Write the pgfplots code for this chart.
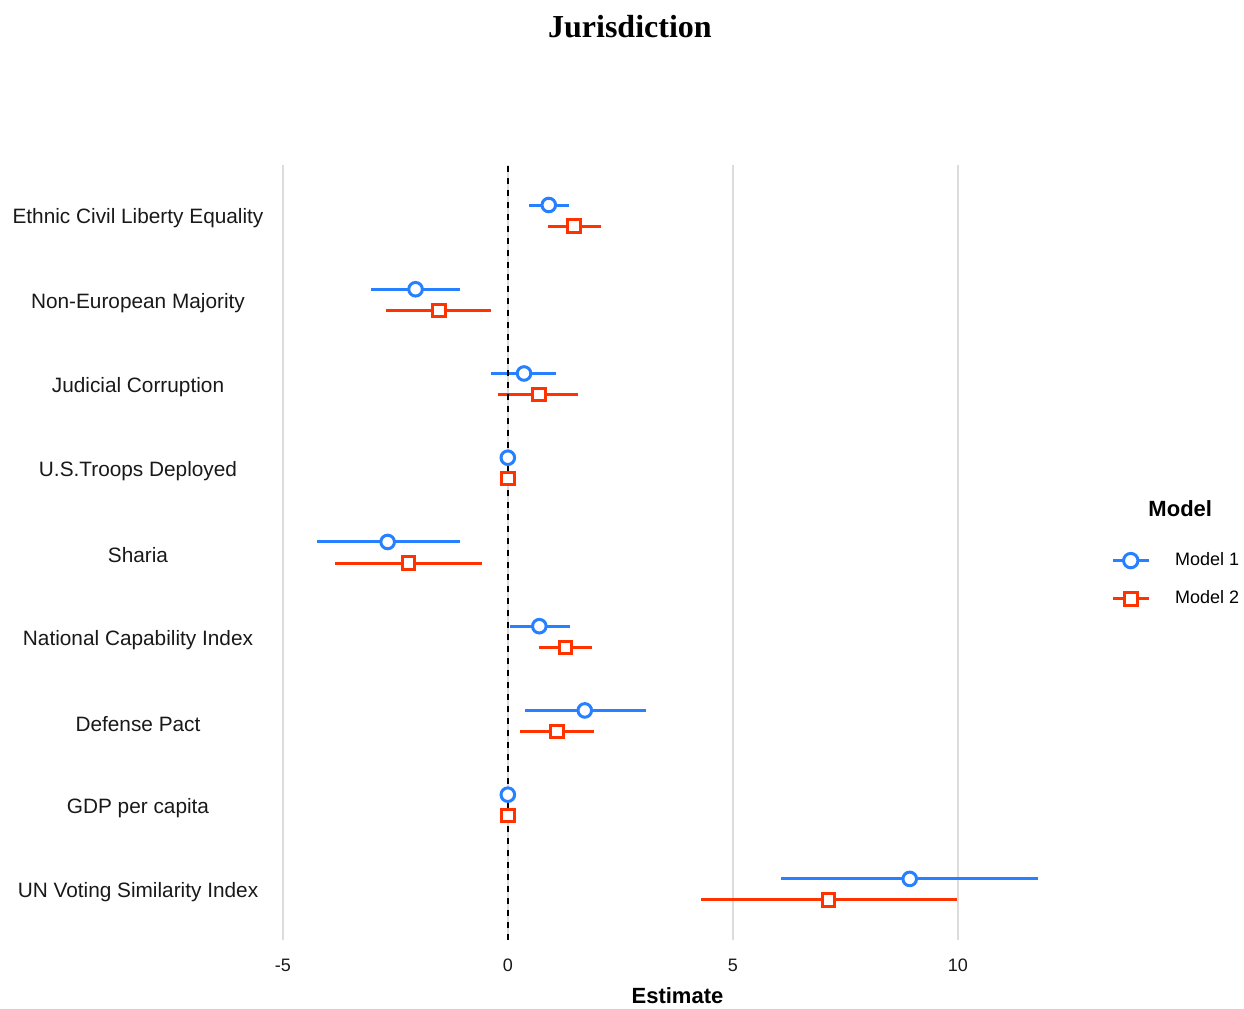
\documentclass[border=0pt]{standalone}
\usepackage{pgfplots}
\pgfplotsset{compat=1.18}
\usepackage{pgfplotstable}
\usepackage{fontspec}
\setmainfont{Liberation Sans}
\newfontfamily\serif{Liberation Serif}
\definecolor{mblue}{RGB}{38,128,255}
\definecolor{mred}{RGB}{255,51,0}
\definecolor{gridgray}{RGB}{220,220,220}

\pgfplotstableread{
x y lo hi
0.91 9.125 0.47 1.36
-2.05 8.125 -3.03 -1.06
0.36 7.125 -0.37 1.08
0.00 6.125 -0.01 0.01
-2.67 5.125 -4.25 -1.07
0.70 4.125 0.04 1.38
1.71 3.125 0.38 3.07
0.00 2.125 -0.01 0.01
8.93 1.125 6.08 11.77
}\modelone

\pgfplotstableread{
x y lo hi
1.47 8.875 0.89 2.07
-1.53 7.875 -2.70 -0.38
0.69 6.875 -0.21 1.57
0.00 5.875 -0.01 0.01
-2.21 4.875 -3.84 -0.58
1.28 3.875 0.70 1.87
1.09 2.875 0.27 1.92
0.00 1.875 -0.01 0.01
7.13 0.875 4.29 9.98
}\modeltwo

\begin{document}
\begin{tikzpicture}
\begin{axis}[
  name=ax,
  scale only axis,
  width=396.5pt, height=387.5pt,
  xmin=-5.04, xmax=12.58,
  ymin=0.4, ymax=9.6,
  axis line style={draw=none},
  tick style={draw=none},
  xtick={-5,0,5,10},
  xticklabels={-5,0,5,10},
  ytick={1,2,3,4,5,6,7,8,9},
  yticklabels={UN Voting Similarity Index, GDP per capita, Defense Pact, National Capability Index, Sharia, U.S.Troops Deployed, Judicial Corruption, Non-European Majority, Ethnic Civil Liberty Equality},
  major tick length=0pt,
  xmajorgrids=true,
  ymajorgrids=false,
  major grid style={draw=gridgray, line width=1.2pt},
  tick label style={font=\fontsize{10.4}{12}\selectfont, text=black!90},
  xticklabel style={font=\fontsize{9}{11}\selectfont, yshift=-6pt},
  yticklabel style={anchor=center, xshift=-71.5pt, yshift=-1.5pt},
  xlabel={\textbf{Estimate}},
  xlabel style={font=\fontsize{11}{13}\selectfont, yshift=-3.5pt, inner sep=1pt},
  legend style={at={(axis description cs:1.039,0.465)}, anchor=west, draw=none, fill=none,
    font=\fontsize{9}{11}\selectfont, row sep=7pt, column sep=10.5pt, cells={anchor=west},
    legend cell align=left},
  legend image code/.code={
    \draw[#1, mark=none] (0cm,0cm) -- (0.63cm,0cm);
    \draw[#1] plot coordinates {(0.315cm,0cm)};
  },
  clip=false,
]
\addplot[only marks, forget plot, mark=*, mark size=3.4pt,
  mark options={draw=mblue, fill=white, line width=1.5pt},
  error bars/.cd, x dir=both, x explicit, error mark=none,
  error bar style={mblue, line width=1.5pt}]
  table[x=x, y=y, x error plus expr=\thisrow{hi}-\thisrow{x}, x error minus expr=\thisrow{x}-\thisrow{lo}] {\modelone};
\addplot[only marks, forget plot, mark=square*, mark size=3.1pt,
  mark options={draw=mred, fill=white, line width=1.5pt},
  error bars/.cd, x dir=both, x explicit, error mark=none,
  error bar style={mred, line width=1.5pt}]
  table[x=x, y=y, x error plus expr=\thisrow{hi}-\thisrow{x}, x error minus expr=\thisrow{x}-\thisrow{lo}] {\modeltwo};
\addplot[forget plot, black, dashed, line width=0.7pt] coordinates {(0,0.4) (0,9.6)};
\addlegendimage{mblue, line width=1.5pt, mark=*, mark size=3.6pt, mark options={fill=white}}
\addlegendentry{Model 1}
\addlegendimage{mred, line width=1.5pt, mark=square*, mark size=3.3pt, mark options={fill=white}}
\addlegendentry{Model 2}
\node[font=\fontsize{11}{13}\selectfont\bfseries] at (axis description cs:1.134,0.556) {Model};
\node[font=\serif\bfseries\fontsize{16}{19}\selectfont] at (axis description cs:0.44,1.178) {Jurisdiction};
\end{axis}
\pgfresetboundingbox
\path[use as bounding box] ([xshift=-140.5pt, yshift=-34.5pt]ax.south west) rectangle ([xshift=85pt, yshift=82.5pt]ax.north east);
\end{tikzpicture}
\end{document}
